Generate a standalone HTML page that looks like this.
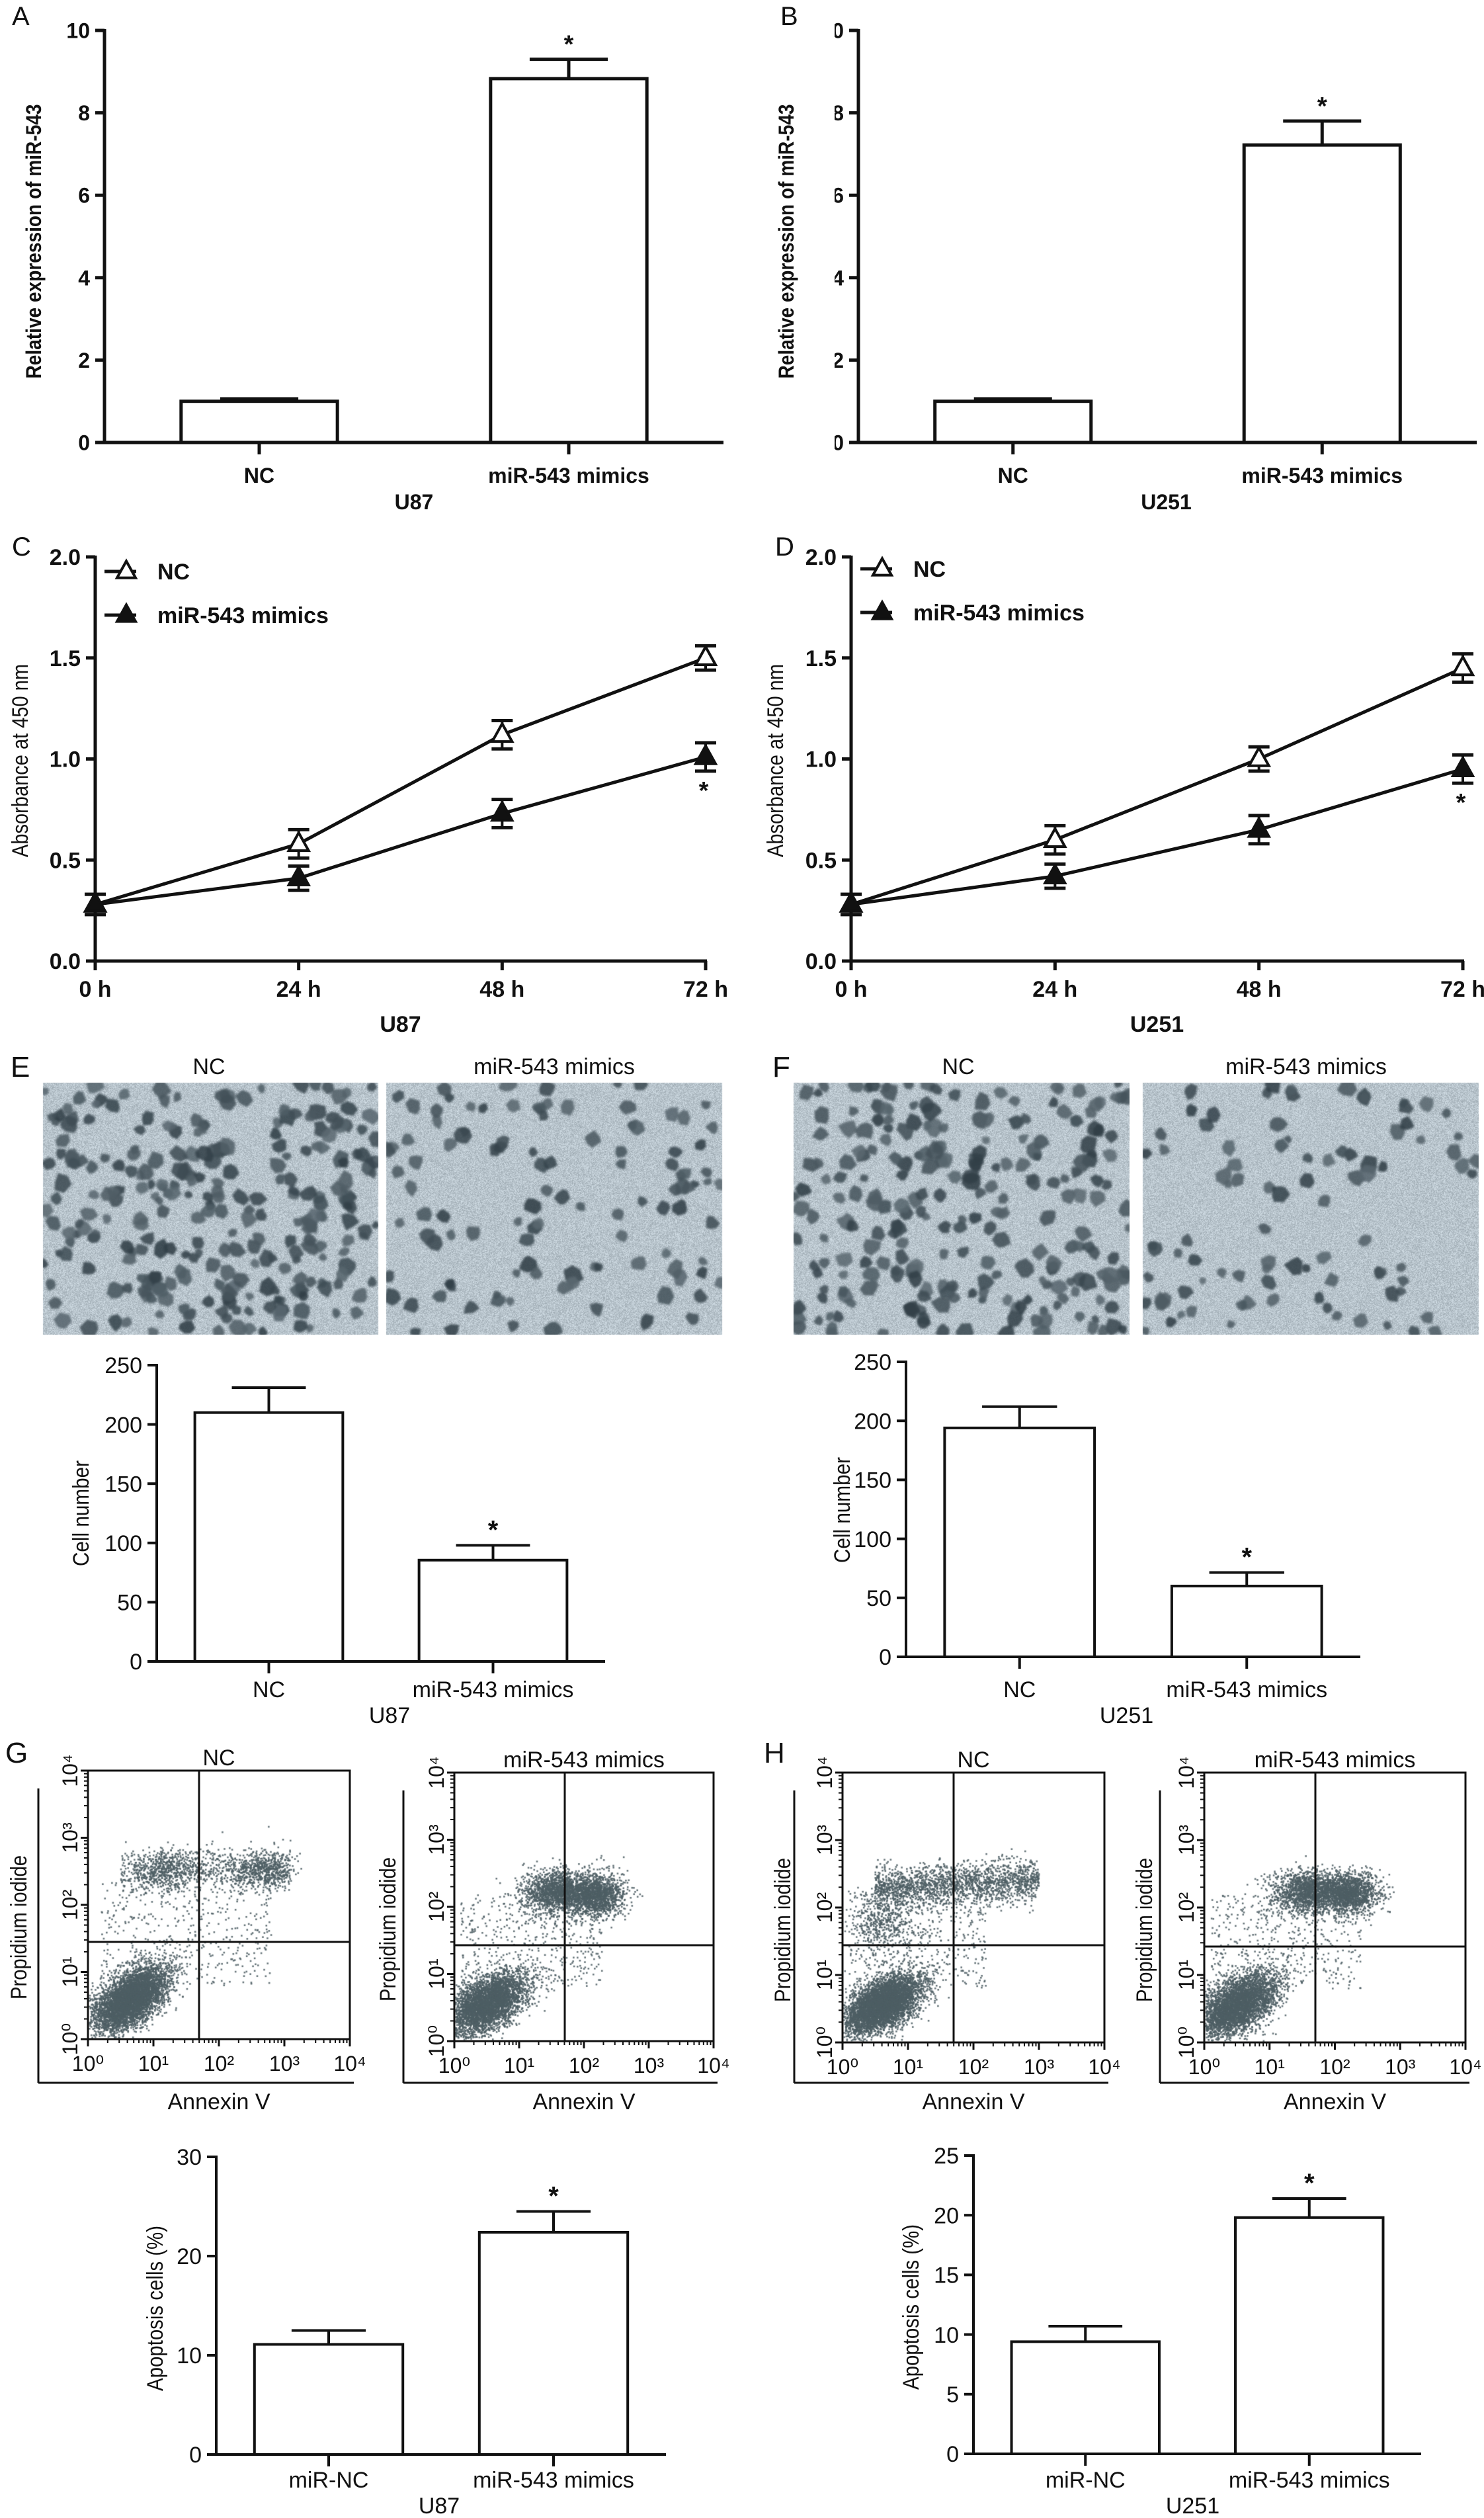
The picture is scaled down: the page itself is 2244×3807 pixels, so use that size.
<!DOCTYPE html>
<html>
<head>
<meta charset="utf-8">
<style>
  html,body{margin:0;padding:0;background:#fff;}
  #wrap{position:relative;width:2244px;height:3807px;overflow:hidden;}
  #bg{position:absolute;left:0;top:0;}
  #fig{position:absolute;left:0;top:0;}
  text{font-family:"Liberation Sans","DejaVu Sans",sans-serif;fill:#111;}
</style>
</head>
<body>
<div id="wrap">
<canvas id="bg" width="2244" height="3807"></canvas>
<svg id="fig" width="2244" height="3807" viewBox="0 0 2244 3807" xmlns="http://www.w3.org/2000/svg">
  <defs>
    <clipPath id="clipB"><rect x="1262" y="0" width="982" height="800"/></clipPath>
  </defs>
</svg>
</div>
<script>
// ---------------- DATA ----------------
const barCategories = ['NC', 'miR-543 mimics'];
const expTicks = [0, 2, 4, 6, 8, 10];
const aValues = [1.0, 8.83];
const aErrors = [0.06, 0.47];
const bValues = [1.0, 7.22];
const bErrors = [0.06, 0.58];

const timeLabels = ['0 h', '24 h', '48 h', '72 h'];
const absTicks = [0, 0.5, 1.0, 1.5, 2.0];
const absTickLabels = ['0.0', '0.5', '1.0', '1.5', '2.0'];
const cNC = [0.28, 0.58, 1.12, 1.50];
const cNCerr = [0.05, 0.07, 0.07, 0.06];
const cMim = [0.28, 0.41, 0.73, 1.01];
const cMimErr = [0.05, 0.06, 0.07, 0.07];
const dNC = [0.28, 0.60, 1.00, 1.45];
const dNCerr = [0.05, 0.07, 0.06, 0.07];
const dMim = [0.28, 0.42, 0.65, 0.95];
const dMimErr = [0.05, 0.06, 0.07, 0.07];

const cellTicks = [0, 50, 100, 150, 200, 250];
const eValues = [210, 85.5];
const eErrors = [21, 12.5];
const fValues = [194, 60];
const fErrors = [18, 11.5];

const apopCategories = ['miR-NC', 'miR-543 mimics'];
const gTicks = [0, 10, 20, 30];
const gValues = [11.1, 22.4];
const gErrors = [1.4, 2.1];
const hTicks = [0, 5, 10, 15, 20, 25];
const hValues = [9.4, 19.8];
const hErrors = [1.3, 1.6];

const flowTickLabels = ['10\u2070', '10\u00b9', '10\u00b2', '10\u00b3', '10\u2074'];

// ---------------- HELPERS ----------------
const NS = 'http://www.w3.org/2000/svg';
const svg = document.getElementById('fig');
function add(parent, tag, attrs, name, text) {
  const el = document.createElementNS(NS, tag);
  for (const k in attrs) el.setAttribute(k, attrs[k]);
  
  
  if (text !== undefined) el.textContent = text;
  (parent || svg).appendChild(el);
  return el;
}
function line(p, x1, y1, x2, y2, w, name) {
  return add(p, 'line', {x1: x1, y1: y1, x2: x2, y2: y2, stroke: '#111', 'stroke-width': w, 'stroke-linecap': 'butt'}, name);
}
function txt(p, x, y, s, size, anchor, name, extra) {
  const a = {x: x, y: y, 'font-size': size, 'text-anchor': anchor || 'middle'};
  if (extra) for (const k in extra) a[k] = extra[k];
  return add(p, 'text', a, name, s);
}
function vtitle(p, x, cy, s, size, len, name, bold) {
  const g = add(p, 'g', {transform: 'translate(' + x + ',' + cy + ') rotate(-90)'}, name + '-group');
  const a = {x: 0, y: 0, 'font-size': size, 'text-anchor': 'middle', textLength: len, lengthAdjust: 'spacingAndGlyphs'};
  if (bold) a['font-weight'] = 'bold';
  add(g, 'text', a, name, s);
  return g;
}

// ---------------- BAR CHART ----------------
function barChart(c) {
  const g = add(null, 'g', {}, c.id);
  const ys = v => c.y0 - v / c.max * (c.y0 - c.yTop);
  const n = c.cats.length;
  const band = (c.xEnd - c.axisX) / n;
  const bw = band * c.barFrac;
  const fw = c.bold ? 'bold' : 'normal';
  c.vals.forEach((v, i) => {
    const cx = c.axisX + band * (i + 0.5);
    const top = ys(v), et = ys(v + c.errs[i]);
    line(g, cx, top, cx, et, c.lw, 'error-bar-' + i);
    line(g, cx - bw * 0.25, et, cx + bw * 0.25, et, c.lw, 'error-cap-' + i);
    add(g, 'rect', {x: cx - bw / 2, y: top, width: bw, height: c.y0 - top, fill: '#fff', stroke: '#111', 'stroke-width': c.lw}, 'bar-' + i);
    if (c.stars[i]) txt(g, cx, et - 10, '*', c.fs + 6, 'middle', 'significance-star-' + i, {'font-weight': 'bold'});
    line(g, cx, c.y0, cx, c.y0 + c.tickLen + 4, c.lw, 'x-tick-' + i);
    txt(g, cx, c.labelY, c.cats[i], c.fs, 'middle', 'x-label-' + i, {'font-weight': fw});
  });
  line(g, c.axisX, c.yTop - 2, c.axisX, c.y0 + c.lw / 2, c.lw, 'y-axis');
  line(g, c.axisX - c.lw / 2, c.y0, c.xEnd, c.y0, c.lw, 'x-axis');
  const tg = c.clip ? add(g, 'g', {'clip-path': 'url(#' + c.clip + ')'}, 'y-tick-labels') : g;
  c.ticks.forEach((t, i) => {
    const y = ys(t);
    line(g, c.axisX - c.tickLen, y, c.axisX, y, c.lw, 'y-tick-' + i);
    txt(tg, c.axisX - c.tickLen - 8, y + c.fs * 0.36, String(t), c.fs, 'end', 'y-tick-label-' + i, {'font-weight': fw});
  });
  vtitle(g, c.titleX, c.titleY, c.title, c.fs, c.titleLen, 'y-axis-title', c.bold);
  txt(g, (c.axisX + c.xEnd) / 2 + (c.groupDx || 0), c.groupY, c.group, c.fs, 'middle', 'group-label', {'font-weight': fw});
  return g;
}

// ---------------- LINE CHART ----------------
function tri(g, x, y, s, filled, name, w) {
  const h = s * 0.9;
  add(g, 'polygon', {points: (x) + ',' + (y - h * 0.62) + ' ' + (x - s / 2) + ',' + (y + h * 0.38) + ' ' + (x + s / 2) + ',' + (y + h * 0.38),
    fill: filled ? '#111' : '#fff', stroke: '#111', 'stroke-width': w}, name);
}
function lineChart(c) {
  const g = add(null, 'g', {}, c.id);
  const ys = v => c.y0 - v / c.max * (c.y0 - c.yTop);
  const xs = i => c.axisX + i * (c.xEnd - c.axisX) / (c.cats.length - 1);
  const lw = 5;
  line(g, c.axisX, c.yTop - 2, c.axisX, c.y0 + 2, lw, 'y-axis');
  line(g, c.axisX - 2, c.y0, c.xEnd + 2, c.y0, lw, 'x-axis');
  c.ticks.forEach((t, i) => {
    const y = ys(t);
    line(g, c.axisX - 14, y, c.axisX, y, lw, 'y-tick-' + i);
    txt(g, c.axisX - 22, y + 12, c.tickLabels[i], 34, 'end', 'y-tick-label-' + i, {'font-weight': 'bold'});
  });
  c.cats.forEach((s, i) => {
    line(g, xs(i), c.y0, xs(i), c.y0 + 14, lw, 'x-tick-' + i);
    txt(g, xs(i), c.y0 + 54, s, 34, 'middle', 'x-label-' + i, {'font-weight': 'bold'});
  });
  const series = [[c.nc, c.ncErr, false, 'nc'], [c.mim, c.mimErr, true, 'mimics']];
  series.forEach(sr => {
    const pts = sr[0].map((v, i) => xs(i) + ',' + ys(v)).join(' ');
    add(g, 'polyline', {points: pts, fill: 'none', stroke: '#111', 'stroke-width': lw}, 'line-' + sr[3]);
  });
  series.forEach(sr => {
    sr[0].forEach((v, i) => {
      const x = xs(i), e = sr[1][i];
      line(g, x, ys(v - e), x, ys(v + e), 4, 'error-' + sr[3] + '-' + i);
      line(g, x - 16, ys(v + e), x + 16, ys(v + e), 5, 'error-cap-top-' + sr[3] + '-' + i);
      line(g, x - 16, ys(v - e), x + 16, ys(v - e), 5, 'error-cap-bottom-' + sr[3] + '-' + i);
      tri(g, x, ys(v), 30, sr[2], 'point-' + sr[3] + '-' + i, 4);
    });
  });
  const last = c.cats.length - 1;
  txt(g, xs(last) - 3, ys(c.mim[last] - c.mimErr[last]) + 42, '*', 38, 'middle', 'significance-star', {'font-weight': 'bold'});
  const lx = c.axisX + 14;
  line(g, lx, c.legY, lx + 48, c.legY, lw, 'legend-line-nc');
  tri(g, lx + 33, c.legY, 28, false, 'legend-marker-nc', 4);
  txt(g, lx + 80, c.legY + 12, 'NC', 34, 'start', 'legend-label-nc', {'font-weight': 'bold'});
  line(g, lx, c.legY + 66, lx + 48, c.legY + 66, lw, 'legend-line-mimics');
  tri(g, lx + 33, c.legY + 66, 28, true, 'legend-marker-mimics', 4);
  txt(g, lx + 80, c.legY + 78, 'miR-543 mimics', 34, 'start', 'legend-label-mimics', {'font-weight': 'bold'});
  vtitle(g, c.titleX, c.titleY, 'Absorbance at 450 nm', 34, 292, 'y-axis-title', false);
  txt(g, (c.axisX + c.xEnd) / 2, c.groupY, c.group, 34, 'middle', 'group-label', {'font-weight': 'bold'});
  return g;
}

// ---------------- FLOW PLOT FRAMES ----------------
function flowFrame(c) {
  const g = add(null, 'g', {}, c.id);
  const dec = (c.y1 - c.y0) / 4, decx = (c.x1 - c.x0) / 4;
  add(g, 'rect', {x: c.x0, y: c.y0, width: c.x1 - c.x0, height: c.y1 - c.y0, fill: 'none', stroke: '#111', 'stroke-width': 3}, 'plot-frame');
  line(g, c.gx, c.y0, c.gx, c.y1, 3, 'gate-vertical');
  line(g, c.x0, c.gy, c.x1, c.gy, 3, 'gate-horizontal');
  for (let d = 0; d < 4; d++) {
    for (let m = 2; m <= 9; m++) {
      const f = Math.log10(m);
      line(g, c.x0 + (d + f) * decx, c.y1, c.x0 + (d + f) * decx, c.y1 + 6, 2, 'x-minor-tick');
      line(g, c.x0 - 6, c.y1 - (d + f) * dec, c.x0, c.y1 - (d + f) * dec, 2, 'y-minor-tick');
    }
  }
  flowTickLabels.forEach((s, i) => {
    line(g, c.x0 + i * decx, c.y1, c.x0 + i * decx, c.y1 + 11, 3, 'x-tick-' + i);
    line(g, c.x0 - 11, c.y1 - i * dec, c.x0, c.y1 - i * dec, 3, 'y-tick-' + i);
    txt(g, c.x0 + i * decx, c.y1 + 48, s, 32, 'middle', 'x-tick-label-' + i);
    const yl = add(g, 'g', {transform: 'translate(' + (c.x0 - 16) + ',' + (c.y1 - i * dec) + ') rotate(-90)'}, 'y-tick-label-group-' + i);
    add(yl, 'text', {x: 0, y: 0, 'font-size': 32, 'text-anchor': 'middle'}, 'y-tick-label-' + i, s);
  });
  line(g, c.ox, c.y0 + 27, c.ox, c.oy, 3, 'outer-y-axis');
  line(g, c.ox, c.oy, c.x1 + 6, c.oy, 3, 'outer-x-axis');
  txt(g, (c.x0 + c.x1) / 2, c.oy + 40, 'Annexin V', 34, 'middle', 'x-axis-title');
  vtitle(g, c.titleX, (c.y0 + c.y1) / 2 + 34, 'Propidium iodide', 34, 218, 'y-axis-title', false);
  txt(g, (c.x0 + c.x1) / 2, c.y0 - 8, c.head, 34, 'middle', 'plot-title');
  return g;
}

// ---------------- BUILD ----------------
txt(null, 18, 38, 'A', 40, 'start', 'panel-label-a');
txt(null, 1180, 38, 'B', 40, 'start', 'panel-label-b');
txt(null, 18, 840, 'C', 40, 'start', 'panel-label-c');
txt(null, 1172, 840, 'D', 40, 'start', 'panel-label-d');
txt(null, 16, 1628, 'E', 44, 'start', 'panel-label-e');
txt(null, 1168, 1628, 'F', 44, 'start', 'panel-label-f');
txt(null, 8, 2665, 'G', 44, 'start', 'panel-label-g');
txt(null, 1155, 2665, 'H', 44, 'start', 'panel-label-h');

barChart({id: 'chart-a', axisX: 158, xEnd: 1094, y0: 669, yTop: 46, max: 10, ticks: expTicks, cats: barCategories,
  vals: aValues, errs: aErrors, stars: [false, true], barFrac: 0.505, lw: 5, fs: 32, bold: true, tickLen: 14,
  labelY: 730, group: 'U87', groupY: 770, title: 'Relative expression of miR-543', titleX: 62, titleY: 365, titleLen: 415});
barChart({id: 'chart-b', axisX: 1298, xEnd: 2233, y0: 669, yTop: 46, max: 10, ticks: expTicks, cats: barCategories,
  vals: bValues, errs: bErrors, stars: [false, true], barFrac: 0.505, lw: 5, fs: 32, bold: true, tickLen: 14, clip: 'clipB',
  labelY: 730, group: 'U251', groupY: 770, groupDx: -2, title: 'Relative expression of miR-543', titleX: 1200, titleY: 365, titleLen: 415});

lineChart({id: 'chart-c', axisX: 144, xEnd: 1067, y0: 1453, yTop: 842, max: 2, ticks: absTicks, tickLabels: absTickLabels,
  cats: timeLabels, nc: cNC, ncErr: cNCerr, mim: cMim, mimErr: cMimErr, legY: 864, titleX: 42, titleY: 1150, group: 'U87', groupY: 1560});
lineChart({id: 'chart-d', axisX: 1287, xEnd: 2212, y0: 1453, yTop: 842, max: 2, ticks: absTicks, tickLabels: absTickLabels,
  cats: timeLabels, nc: dNC, ncErr: dNCerr, mim: dMim, mimErr: dMimErr, legY: 860, titleX: 1184, titleY: 1150, group: 'U251', groupY: 1560});

txt(null, 316, 1624, 'NC', 34, 'middle', 'image-title-e-nc');
txt(null, 838, 1624, 'miR-543 mimics', 34, 'middle', 'image-title-e-mimics');
txt(null, 1449, 1624, 'NC', 34, 'middle', 'image-title-f-nc');
txt(null, 1975, 1624, 'miR-543 mimics', 34, 'middle', 'image-title-f-mimics');

barChart({id: 'chart-e', axisX: 237, xEnd: 915, y0: 2512, yTop: 2064, max: 250, ticks: cellTicks, cats: barCategories,
  vals: eValues, errs: eErrors, stars: [false, true], barFrac: 0.66, lw: 4, fs: 34, bold: false, tickLen: 14,
  labelY: 2566, group: 'U87', groupY: 2605, groupDx: 13, title: 'Cell number', titleX: 134, titleY: 2288, titleLen: 160});
barChart({id: 'chart-f', axisX: 1370, xEnd: 2057, y0: 2505, yTop: 2059, max: 250, ticks: cellTicks, cats: barCategories,
  vals: fValues, errs: fErrors, stars: [false, true], barFrac: 0.66, lw: 4, fs: 34, bold: false, tickLen: 14,
  labelY: 2566, group: 'U251', groupY: 2605, groupDx: -10, title: 'Cell number', titleX: 1285, titleY: 2283, titleLen: 160});

flowFrame({id: 'flow-g-nc', x0: 133, x1: 529, y0: 2677, y1: 3083, gx: 301, gy: 2936, ox: 58, oy: 3149, titleX: 40, head: 'NC'});
flowFrame({id: 'flow-g-mimics', x0: 687, x1: 1079, y0: 2680, y1: 3086, gx: 854, gy: 2941, ox: 610, oy: 3149, titleX: 598, head: 'miR-543 mimics'});
flowFrame({id: 'flow-h-nc', x0: 1274, x1: 1670, y0: 2680, y1: 3088, gx: 1442, gy: 2941, ox: 1201, oy: 3149, titleX: 1195, head: 'NC'});
flowFrame({id: 'flow-h-mimics', x0: 1821, x1: 2216, y0: 2680, y1: 3088, gx: 1989, gy: 2943, ox: 1754, oy: 3149, titleX: 1742, head: 'miR-543 mimics'});

barChart({id: 'chart-g', axisX: 327, xEnd: 1007, y0: 3711, yTop: 3261, max: 30, ticks: gTicks, cats: apopCategories,
  vals: gValues, errs: gErrors, stars: [false, true], barFrac: 0.66, lw: 4, fs: 34, bold: false, tickLen: 14,
  labelY: 3761, group: 'U87', groupY: 3800, groupDx: -3, title: 'Apoptosis cells (%)', titleX: 246, titleY: 3490, titleLen: 250});
barChart({id: 'chart-h', axisX: 1472, xEnd: 2149, y0: 3710, yTop: 3259, max: 25, ticks: hTicks, cats: apopCategories,
  vals: hValues, errs: hErrors, stars: [false, true], barFrac: 0.66, lw: 4, fs: 34, bold: false, tickLen: 14,
  labelY: 3761, group: 'U251', groupY: 3800, groupDx: -7, title: 'Apoptosis cells (%)', titleX: 1389, titleY: 3488, titleLen: 250});

// ---------------- CANVAS: micrographs + flow dots ----------------
const cv = document.getElementById('bg');
const ctx = cv.getContext('2d');
function rng(seed) { return function () { seed |= 0; seed = seed + 0x6D2B79F5 | 0; let t = Math.imul(seed ^ seed >>> 15, 1 | seed); t = t + Math.imul(t ^ t >>> 7, 61 | t) ^ t; return ((t ^ t >>> 14) >>> 0) / 4294967296; }; }
function gauss(r) { let u = 0, v = 0; while (u === 0) u = r(); v = r(); return Math.sqrt(-2 * Math.log(u)) * Math.cos(2 * Math.PI * v); }

function micro(x0, y0, x1, y1, nCells, seed) {
  const r = rng(seed);
  const w = x1 - x0, h = y1 - y0;
  const img = ctx.createImageData(w, h);
  for (let i = 0; i < w * h; i++) {
    const v = 198 + (r() - 0.5) * 56;
    img.data[i * 4] = v - 14; img.data[i * 4 + 1] = v - 2; img.data[i * 4 + 2] = v + 6; img.data[i * 4 + 3] = 255;
  }
  ctx.putImageData(img, x0, y0);
  ctx.save();
  ctx.beginPath(); ctx.rect(x0, y0, w, h); ctx.clip();
  ctx.filter = 'blur(1.6px)';
  for (let k = 0; k < nCells; k++) {
    const cx = x0 + r() * w, cy = y0 + r() * h, rad = 7 + r() * 8;
    const pts = 6 + Math.floor(r() * 3);
    ctx.beginPath();
    for (let p = 0; p < pts; p++) {
      const a = p / pts * Math.PI * 2 + r() * 0.4, rr = rad * (0.7 + r() * 0.45);
      const px = cx + Math.cos(a) * rr, py = cy + Math.sin(a) * rr;
      if (p === 0) ctx.moveTo(px, py); else ctx.lineTo(px, py);
    }
    ctx.closePath();
    const s = 55 + r() * 45;
    ctx.fillStyle = 'rgba(' + (s - 8) + ',' + (s + 6) + ',' + (s + 14) + ',0.88)';
    ctx.fill();
  }
  ctx.filter = 'none';
  ctx.restore();
}
micro(65, 1637, 572, 2018, 270, 11);
micro(584, 1637, 1092, 2018, 110, 12);
micro(1200, 1637, 1708, 2018, 250, 13);
micro(1728, 1637, 2236, 2018, 90, 14);

function dots(box, pops, seed) {
  const r = rng(seed);
  const sx = (box.x1 - box.x0) / 4, sy = (box.y1 - box.y0) / 4;
  ctx.fillStyle = 'rgba(78,94,100,0.85)';
  pops.forEach(p => {
    for (let i = 0; i < p.n; i++) {
      let lx, ly;
      if (p.type === 'g') {
        const a = gauss(r), b = gauss(r);
        lx = p.cx + p.sx * a; ly = p.cy + p.sy * (p.rho * a + Math.sqrt(1 - p.rho * p.rho) * b);
      } else if (p.type === 'band') {
        lx = p.xa + r() * (p.xb - p.xa); ly = p.cy + p.sy * gauss(r) + p.tilt * (lx - p.xa);
      } else {
        lx = p.xa + r() * (p.xb - p.xa); ly = p.ya + r() * (p.yb - p.ya);
      }
      if (lx < 0.02 || ly < 0.02 || lx > 3.98 || ly > 3.98) continue;
      ctx.fillRect(box.x0 + lx * sx - 1.2, box.y1 - ly * sy - 1.2, 2.6, 2.6);
    }
  });
}
dots({x0: 133, x1: 529, y0: 2677, y1: 3083}, [
  {type: 'g', n: 5200, cx: 0.65, cy: 0.6, sx: 0.28, sy: 0.24, rho: 0.55},
  {type: 'band', n: 900, xa: 0.5, xb: 3.1, cy: 2.45, sy: 0.17, tilt: 0.05},
  {type: 'g', n: 350, cx: 1.2, cy: 2.55, sx: 0.2, sy: 0.13, rho: 0},
  {type: 'g', n: 450, cx: 2.7, cy: 2.5, sx: 0.22, sy: 0.13, rho: 0},
  {type: 'u', n: 450, xa: 0.2, xb: 2.8, ya: 0.8, yb: 2.4}], 21);
dots({x0: 687, x1: 1079, y0: 2680, y1: 3086}, [
  {type: 'g', n: 4200, cx: 0.5, cy: 0.55, sx: 0.32, sy: 0.24, rho: 0.55},
  {type: 'g', n: 1700, cx: 1.6, cy: 2.22, sx: 0.27, sy: 0.16, rho: 0},
  {type: 'g', n: 1500, cx: 2.2, cy: 2.18, sx: 0.22, sy: 0.16, rho: 0},
  {type: 'u', n: 450, xa: 0.1, xb: 2.3, ya: 0.8, yb: 2.2}], 22);
dots({x0: 1274, x1: 1670, y0: 2680, y1: 3088}, [
  {type: 'g', n: 5200, cx: 0.6, cy: 0.55, sx: 0.3, sy: 0.22, rho: 0.55},
  {type: 'band', n: 1900, xa: 0.5, xb: 3.0, cy: 2.28, sy: 0.16, tilt: 0.05},
  {type: 'g', n: 450, cx: 0.6, cy: 1.75, sx: 0.25, sy: 0.22, rho: 0},
  {type: 'u', n: 500, xa: 0.1, xb: 2.2, ya: 0.8, yb: 2.3}], 23);
dots({x0: 1821, x1: 2216, y0: 2680, y1: 3088}, [
  {type: 'g', n: 4200, cx: 0.5, cy: 0.55, sx: 0.32, sy: 0.24, rho: 0.55},
  {type: 'g', n: 1700, cx: 1.6, cy: 2.22, sx: 0.27, sy: 0.15, rho: 0},
  {type: 'g', n: 1500, cx: 2.25, cy: 2.22, sx: 0.22, sy: 0.15, rho: 0},
  {type: 'u', n: 450, xa: 0.1, xb: 2.4, ya: 0.8, yb: 2.2}], 24);
</script>
</body>
</html>
